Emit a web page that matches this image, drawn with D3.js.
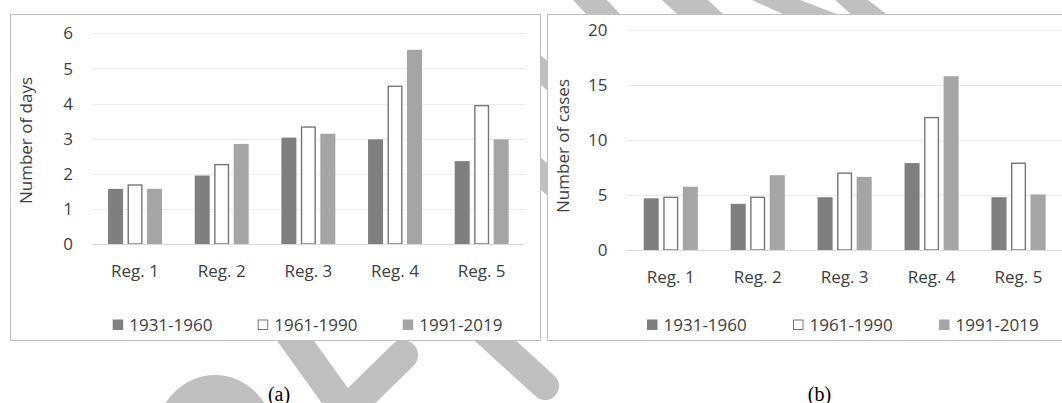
<!DOCTYPE html>
<html lang="en">
<head>
    <meta charset="UTF-8">
    <title>Number of days / cases by region</title>
    <script src="https://d3js.org/d3.v7.min.js"></script>
    <style>
        body { margin: 0; background: #fff; }
        svg { display: block; }
        .tick-label, .cat-label, .legend-label, .y-title { font-family: "Open Sans", sans-serif; font-size: 17px; fill: #404040; }
        .caption { font-family: "Liberation Serif", "Times New Roman", serif; font-size: 20px; fill: #000; }
    </style>
</head>
<body>
<svg id="chart" width="1062" height="403"></svg>
<script>
    // data
    const regions = ["Reg. 1", "Reg. 2", "Reg. 3", "Reg. 4", "Reg. 5"];
    const periods = ["1931-1960", "1961-1990", "1991-2019"];

    const days1931 = [1.57, 1.95, 3.03, 2.98, 2.36];
    const days1961 = [1.70, 2.28, 3.35, 4.51, 3.96];
    const days1991 = [1.57, 2.85, 3.14, 5.53, 2.98];

    const cases1931 = [4.7, 4.2, 4.8, 7.9, 4.8];
    const cases1961 = [4.85, 4.85, 7.05, 12.1, 7.95];
    const cases1991 = [5.75, 6.8, 6.65, 15.8, 5.05];

    const daysTicks = [0, 1, 2, 3, 4, 5, 6];
    const casesTicks = [0, 5, 10, 15, 20];

    const periodFill = { "1931-1960": "#7f7f7f", "1961-1990": "#ffffff", "1991-2019": "#a5a5a5" };

    const boxA = [10, 14, 530, 326];
    const boxB = [547, 14, 530, 326];

    const svg = d3.select("#chart");

    // mask so the watermark only shows outside the two panels
    const mask = svg.append("defs").append("mask").attr("id", "outside");
    mask.append("rect").attr("width", 1062).attr("height", 403).attr("fill", "#fff");
    [boxA, boxB].forEach(b => mask.append("rect")
        .attr("x", b[0] + 1).attr("y", b[1] + 1).attr("width", b[2] - 1).attr("height", b[3] - 1)
        .attr("fill", "#000"));

    // light gray watermark strokes
    const wm = svg.append("g").attr("mask", "url(#outside)").attr("fill", "#c0c0c0").attr("stroke", "#c0c0c0");
    wm.append("ellipse").attr("cx", 215).attr("cy", 440).attr("rx", 60).attr("ry", 65).attr("stroke", "none");
    const wmLines = [
        { w: 30, pts: [[187, 190], [346, 411], [403, 355]] },
        { w: 28, pts: [[330, 190], [545, 386]] },
        { w: 22, pts: [[513, 45], [573, 99]] },
        { w: 24, pts: [[513, 148], [573, 203]] }
    ];
    wmLines.forEach(l => {
        wm.append("path")
            .attr("d", d3.line()(l.pts))
            .attr("fill", "none")
            .attr("stroke-width", l.w)
            .attr("stroke-linecap", "round")
            .attr("stroke-linejoin", "round");
    });
    const wmTop = [
        [[573, 0], [607, 0], [622, 16], [588, 16]],
        [[662, 0], [708, 0], [725, 16], [679, 16]],
        [[752, 0], [800, 0], [842, 16], [787, 16]],
        [[835, 0], [868, 0], [889, 16], [853, 16]]
    ];
    wmTop.forEach(pts => wm.append("polygon").attr("points", pts.join(" ")).attr("stroke", "none"));

    function drawPanel(opt) {
        const g = svg.append("g");

        g.append("rect")
            .attr("x", opt.box[0] + 0.5).attr("y", opt.box[1] + 0.5)
            .attr("width", opt.box[2]).attr("height", opt.box[3])
            .attr("fill", "#fff").attr("stroke", "#bfbfbf");

        const y = d3.scaleLinear().domain(opt.yDomain).range([opt.y0, opt.y1]);
        const x0 = d3.scaleBand().domain(regions).range([opt.xL, opt.xR]);
        const x1 = d3.scaleBand().domain(periods).range([0, x0.bandwidth()])
            .paddingInner(0.23).paddingOuter(0.84);

        // gridlines
        g.selectAll(".grid").data(opt.ticks).join("line")
            .attr("x1", opt.xL).attr("x2", opt.xR)
            .attr("y1", d => Math.round(y(d)) + 0.5).attr("y2", d => Math.round(y(d)) + 0.5)
            .attr("stroke", d => d === 0 ? "#d9d9d9" : "#ebebeb")
            .attr("stroke-width", 1.2);

        g.selectAll(".tick-label").data(opt.ticks).join("text")
            .attr("class", "tick-label")
            .attr("x", opt.tickX).attr("y", d => y(d))
            .attr("dy", "0.36em")
            .attr("text-anchor", "end")
            .text(d => d);

        // bars
        const rows = regions.map((r, i) => ({ region: r, values: opt.series.map((s, j) => ({ period: periods[j], v: s[i] })) }));
        const grp = g.selectAll(".grp").data(rows).join("g")
            .attr("transform", d => `translate(${x0(d.region)},0)`);
        grp.selectAll("rect").data(d => d.values).join("rect")
            .attr("x", d => x1(d.period) + (d.period === "1961-1990" ? 0.7 : 0))
            .attr("width", d => x1.bandwidth() - (d.period === "1961-1990" ? 1.4 : 0))
            .attr("y", d => y(d.v) + (d.period === "1961-1990" ? 0.7 : 0))
            .attr("height", d => y(0) - y(d.v) - (d.period === "1961-1990" ? 0.7 : 0))
            .attr("fill", d => periodFill[d.period])
            .attr("stroke", d => d.period === "1961-1990" ? "#767676" : "none")
            .attr("stroke-width", 1.4);

        // baseline on top of bars
        g.append("line")
            .attr("x1", opt.xL).attr("x2", opt.xR)
            .attr("y1", Math.round(y(0)) + 0.5).attr("y2", Math.round(y(0)) + 0.5)
            .attr("stroke", "#d9d9d9").attr("stroke-width", 1.2);

        g.selectAll(".cat-label").data(regions).join("text")
            .attr("class", "cat-label")
            .attr("x", d => x0(d) + x0.bandwidth() / 2)
            .attr("y", opt.y0 + 33)
            .attr("text-anchor", "middle")
            .text(d => d);

        g.append("text")
            .attr("class", "y-title")
            .attr("transform", `translate(${opt.titleX},${opt.titleY}) rotate(-90)`)
            .attr("dy", "0.36em")
            .attr("text-anchor", "middle")
            .text(opt.yTitle);

        // legend
        const leg = g.selectAll(".leg").data(periods).join("g")
            .attr("transform", (d, i) => `translate(${opt.legendX + i * opt.legendStep},0)`);
        leg.append("rect")
            .attr("x", d => d === "1961-1990" ? 0.5 : 0)
            .attr("y", d => d === "1961-1990" ? 320 : 319.5)
            .attr("width", d => d === "1961-1990" ? 9.5 : 10.5)
            .attr("height", d => d === "1961-1990" ? 9.5 : 10.5)
            .attr("fill", d => periodFill[d])
            .attr("stroke", d => d === "1961-1990" ? "#767676" : "none");
        leg.append("text")
            .attr("class", "legend-label")
            .attr("x", 16.5).attr("y", 330.5)
            .text(d => d);

        svg.append("text")
            .attr("class", "caption")
            .attr("x", opt.captionX).attr("y", 400.5)
            .attr("text-anchor", "middle")
            .text(opt.caption);
    }

    drawPanel({
        box: boxA,
        yDomain: [0, 6], y0: 244, y1: 33.3,
        xL: 91.7, xR: 525,
        ticks: daysTicks, tickX: 73,
        series: [days1931, days1961, days1991],
        yTitle: "Number of days", titleX: 25.5, titleY: 140.5,
        legendX: 112.7, legendStep: 145,
        caption: "(a)", captionX: 279
    });

    drawPanel({
        box: boxB,
        yDomain: [0, 20], y0: 250, y1: 30,
        xL: 627.3, xR: 1062,
        ticks: casesTicks, tickX: 607.5,
        series: [cases1931, cases1961, cases1991],
        yTitle: "Number of cases", titleX: 563, titleY: 146,
        legendX: 647, legendStep: 146,
        caption: "(b)", captionX: 819.5
    });
</script>
</body>
</html>
